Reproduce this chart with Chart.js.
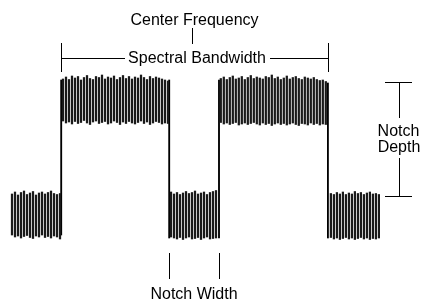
<!DOCTYPE html>
<html>
<head>
<meta charset="utf-8">
<script src="https://cdn.jsdelivr.net/npm/chart.js@4.4.0/dist/chart.umd.min.js"></script>
<style>
  html, body { margin: 0; padding: 0; background: #fff; }
  #wrap { width: 423px; height: 300px; }
</style>
</head>
<body>
<div id="wrap"><canvas id="grafico" width="423" height="300"></canvas></div>
<script>
// espectro con notch - valores en dB, x en bins de frecuencia

// primer bin de cada tramo
var inicioTramos = [4, 21, 57, 73.6, 110.3];

var bajoIzqTop = [-38.8, -38.4, -39.0, -38.5, -38.2, -38.9, -38.6, -38.3, -39.0, -38.6, -38.4, -38.8, -38.5, -38.2, -38.7, -38.9, -38.7];
var bajoIzqBot = [-47.0, -47.4, -47.2, -47.6, -47.3, -47.1, -47.5, -47.7, -47.2, -47.4, -47.0, -47.5, -47.3, -47.6, -47.2, -47.4, -47.8];

var alto1Top = [-15.8, -15.4, -15.9, -15.2, -15.6, -15.3, -16.0, -15.5, -15.1, -15.7, -15.9, -15.3, -15.5, -15.0, -15.8, -15.4, -15.6, -15.2,
                -15.9, -15.5, -15.1, -15.7, -15.3, -15.8, -15.4, -15.6, -15.0, -15.5, -15.9, -15.3, -15.7, -15.4, -15.6, -15.8, -16.0, -16.2];
var alto1Bot = [-24.2, -24.6, -24.4, -24.8, -24.3, -24.7, -24.5, -24.1, -24.6, -24.9, -24.4, -24.2, -24.7, -24.5, -24.3, -24.8, -24.6, -24.2,
                -24.5, -24.9, -24.4, -24.7, -24.3, -24.6, -24.8, -24.5, -24.2, -24.7, -24.4, -24.9, -24.6, -24.3, -24.5, -24.8, -24.6, -24.7];

var notchTop = [-38.4, -38.8, -38.5, -38.9, -38.6, -38.3, -38.7, -38.5, -38.2, -38.8, -38.6, -38.4, -38.9, -38.5, -38.3, -38.1];
var notchBot = [-47.4, -47.6, -47.8, -47.5, -47.9, -47.6, -47.4, -47.8, -47.7, -47.5, -47.9, -47.6, -47.4, -47.8, -47.7, -47.6];

var alto2Top = [-15.7, -15.4, -15.9, -15.5, -15.2, -15.8, -15.6, -15.3, -15.9, -15.5, -15.1, -15.7, -15.4, -15.6, -15.8, -15.3, -15.5, -15.0,
                -15.7, -15.4, -15.9, -15.6, -15.2, -15.8, -15.5, -15.3, -15.7, -15.9, -15.4, -15.6, -15.8, -15.5, -15.9, -16.1, -16.0, -16.3];
var alto2Bot = [-24.5, -24.8, -24.6, -24.9, -24.7, -24.5, -25.0, -24.8, -24.6, -24.9, -24.7, -24.5, -24.8, -25.0, -24.6, -24.9, -24.7, -25.1,
                -24.8, -24.6, -24.9, -24.7, -25.0, -24.8, -24.6, -24.9, -25.1, -24.7, -24.8, -25.0, -24.6, -24.9, -24.7, -25.0, -24.8, -24.9];

var bajoDerTop = [-38.7, -38.9, -38.5, -38.8, -38.4, -38.9, -38.6, -38.8, -38.3, -38.7, -38.5, -38.9, -38.6, -38.4, -38.8, -38.7, -38.9];
var bajoDerBot = [-47.5, -47.8, -47.6, -47.9, -47.7, -47.5, -47.8, -47.6, -47.9, -47.7, -47.5, -47.8, -47.6, -47.9, -47.7, -47.8, -47.6];

// flancos verticales del espectro
var flancosX = [20.4, 56.4, 73.0, 109.3];
var flancosTop = [-16.0, -16.0, -16.0, -16.6];
var flancosBot = [-47.0, -47.6, -47.6, -47.6];

// textos
var textoCentro = 'Center Frequency';
var textoBanda = 'Spectral Bandwidth';
var textoProf = ['Notch', 'Depth'];
var textoAncho = 'Notch Width';

var tramosTop = [bajoIzqTop, alto1Top, notchTop, alto2Top, bajoDerTop];
var tramosBot = [bajoIzqBot, alto1Bot, notchBot, alto2Bot, bajoDerBot];

var barras = [];
tramosTop.forEach(function (tops, t) {
    tops.forEach(function (v, i) {
        barras.push({x: inicioTramos[t] + i, y: [tramosBot[t][i], v]});
    });
});

var flancos = flancosX.map(function (x, i) {
    return {x: x, y: [flancosBot[i], flancosTop[i]]};
});

// lineas y textos de anotacion
var anotaciones = {
    id: 'anotaciones',
    afterDraw: function (chart) {
        var c = chart.ctx;
        var xs = chart.scales.x;
        var ys = chart.scales.y;
        var xA = Math.round(xs.getPixelForValue(flancosX[0])) + 0.5;
        var xB = Math.round(xs.getPixelForValue(flancosX[1])) + 0.5;
        var xC = Math.round(xs.getPixelForValue(flancosX[2])) + 0.5;
        var xD = Math.round(xs.getPixelForValue(flancosX[3])) + 0.5;
        var yAlto = Math.round(ys.getPixelForValue(-16.4)) + 0.5;
        var yBajo = Math.round(ys.getPixelForValue(-39.2)) + 0.5;

        c.save();
        c.strokeStyle = '#000';
        c.fillStyle = '#000';
        c.lineWidth = 1;
        c.font = '16px "Liberation Sans", Arial, sans-serif';
        c.textAlign = 'center';
        c.textBaseline = 'alphabetic';

        function linea(x1, y1, x2, y2) {
            c.beginPath();
            c.moveTo(x1, y1);
            c.lineTo(x2, y2);
            c.stroke();
        }

        // frecuencia central
        c.fillText(textoCentro, 194.5, 25);
        linea(192.5, 28, 192.5, 44);

        // ancho de banda
        c.fillText(textoBanda, 197, 62.5);
        linea(xA, 43, xA, 72);
        linea(xD, 43, xD, 72);
        linea(xA, 58.5, 125, 58.5);
        linea(270, 58.5, xD, 58.5);

        // profundidad del notch
        linea(385, yAlto, 412, yAlto);
        linea(399.5, yAlto, 399.5, 118);
        linea(399.5, 158, 399.5, yBajo);
        linea(385, yBajo, 412, yBajo);
        c.fillText(textoProf[0], 398.5, 136);
        c.fillText(textoProf[1], 399, 152);

        // ancho del notch
        linea(xB, 253, xB, 279);
        linea(xC, 253, xC, 279);
        c.fillText(textoAncho, 194, 299);

        c.restore();
    }
};

var ctx = document.getElementById('grafico').getContext('2d');
new Chart(ctx, {
    type: 'bar',
    data: {
        datasets: [{
                label: 'espectro',
                data: barras,
                backgroundColor: '#1a1a1a',
                borderWidth: 0,
                barThickness: 1.6,
                grouped: false
            }, {
                label: 'flancos',
                data: flancos,
                backgroundColor: '#000',
                borderWidth: 0,
                barThickness: 1.2,
                grouped: false
            }]
    },
    options: {
        responsive: false,
        animation: false,
        layout: {
            padding: 0
        },
        scales: {
            x: {
                type: 'linear',
                min: 0,
                max: 141,
                offset: false,
                display: false
            },
            y: {
                min: -60,
                max: 0,
                display: false
            }
        },
        plugins: {
            legend: {
                display: false
            },
            tooltip: {
                enabled: false
            }
        }
    },
    plugins: [anotaciones]
});
</script>
</body>
</html>
